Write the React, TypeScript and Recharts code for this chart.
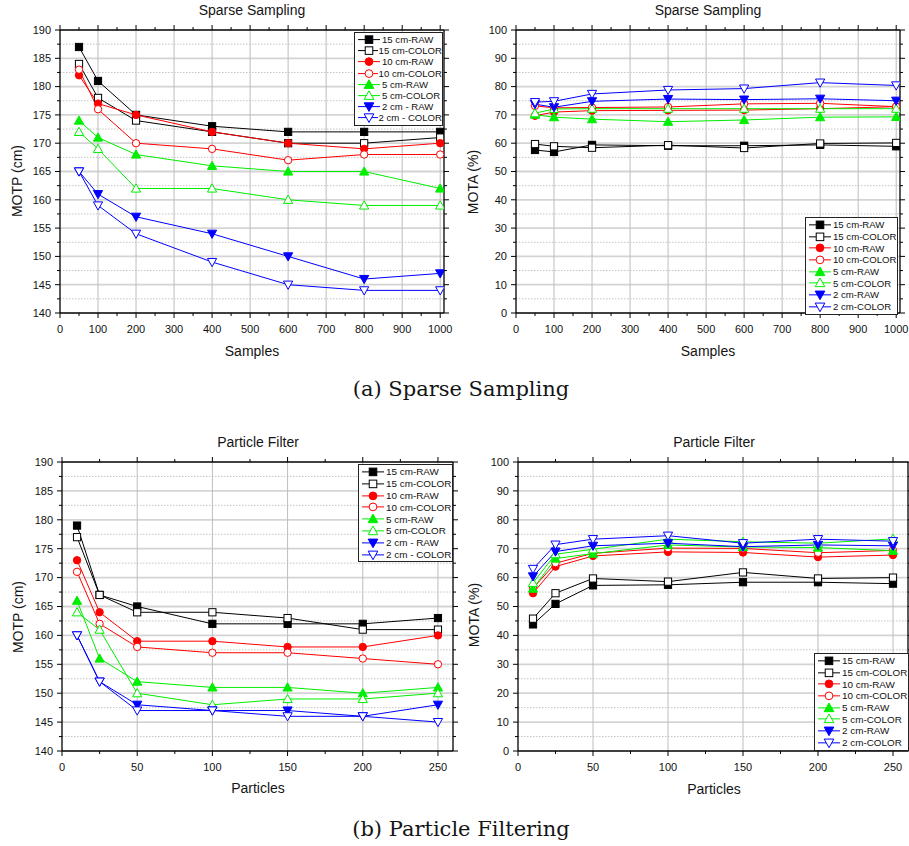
import React from 'react';
import { LineChart, Line, XAxis, YAxis, ReferenceLine, Legend } from 'recharts';

// ---------- categories / ticks ----------
const samples = [50, 100, 200, 400, 600, 800, 1000];
const particles = [10, 25, 50, 100, 150, 200, 250];

const sampleTicks = [0, 100, 200, 300, 400, 500, 600, 700, 800, 900, 1000];
const sampleMinorTicks = [50, 150, 250, 350, 450, 550, 650, 750, 850, 950];
const particleTicks = [0, 50, 100, 150, 200, 250];
const particleMinorTicks = [25, 75, 125, 175, 225];
const motpTicks = [140, 145, 150, 155, 160, 165, 170, 175, 180, 185, 190];
const motpMinorTicks = [142.5, 147.5, 152.5, 157.5, 162.5, 167.5, 172.5, 177.5, 182.5, 187.5];
const motaTicks = [0, 10, 20, 30, 40, 50, 60, 70, 80, 90, 100];
const motaMinorTicks = [5, 15, 25, 35, 45, 55, 65, 75, 85, 95];

// ---------- series values ----------
// Sparse Sampling - MOTP (cm)
const motpS15Raw = [187, 181, 175, 173, 172, 172, 172];
const motpS15Color = [184, 178, 174, 172, 170, 170, 171];
const motpS10Raw = [182, 177, 175, 172, 170, 169, 170];
const motpS10Color = [183, 176, 170, 169, 167, 168, 168];
const motpS5Raw = [174, 171, 168, 166, 165, 165, 162];
const motpS5Color = [172, 169, 162, 162, 160, 159, 159];
const motpS2Raw = [165, 161, 157, 154, 150, 146, 147];
const motpS2Color = [165, 159, 154, 149, 145, 144, 144];

// Sparse Sampling - MOTA (%)
const motaS15Raw = [57.6, 56.9, 59.4, 59.1, 59.1, 59.4, 58.9];
const motaS15Color = [59.7, 58.9, 58.4, 59.3, 58.3, 59.9, 60.1];
const motaS10Raw = [69.7, 71.0, 71.5, 71.6, 71.7, 72.2, 72.9];
const motaS10Color = [73.2, 72.5, 72.6, 72.8, 73.9, 74.1, 72.9];
const motaS5Raw = [70.1, 69.2, 68.5, 67.6, 68.2, 69.2, 69.3];
const motaS5Color = [70.6, 72.1, 72.2, 72.2, 72.2, 72.2, 72.2];
const motaS2Raw = [73.8, 72.7, 74.8, 75.6, 75.4, 75.7, 75.0];
const motaS2Color = [74.5, 74.8, 77.4, 78.8, 79.3, 81.4, 80.4];

// Particle Filter - MOTP (cm)
const motpP15Raw = [179, 167, 165, 162, 162, 162, 163];
const motpP15Color = [177, 167, 164, 164, 163, 161, 161];
const motpP10Raw = [173, 164, 159, 159, 158, 158, 160];
const motpP10Color = [171, 162, 158, 157, 157, 156, 155];
const motpP5Raw = [166, 156, 152, 151, 151, 150, 151];
const motpP5Color = [164, 161, 150, 148, 149, 149, 150];
const motpP2Raw = [160, 152, 148, 147, 147, 146, 148];
const motpP2Color = [160, 152, 147, 147, 146, 146, 145];

// Particle Filter - MOTA (%)
const motaP15Raw = [43.8, 50.9, 57.3, 57.5, 58.4, 58.4, 57.9];
const motaP15Color = [45.8, 54.6, 59.7, 58.6, 61.8, 59.7, 60.0];
const motaP10Raw = [54.6, 63.8, 67.5, 68.9, 68.7, 67.1, 67.8];
const motaP10Color = [56.3, 65.0, 68.4, 70.2, 70.1, 68.6, 69.4];
const motaP5Raw = [56.2, 66.6, 68.3, 71.3, 70.6, 70.4, 69.3];
const motaP5Color = [58.2, 68.1, 69.8, 73.3, 72.4, 71.9, 73.4];
const motaP2Raw = [60.4, 69.0, 71.0, 71.9, 70.7, 71.3, 71.0];
const motaP2Color = [63.0, 71.4, 73.3, 74.5, 71.9, 73.3, 72.6];

// ---------- text ----------
const legendNamesSpaced = ['15 cm-RAW', '15 cm-COLOR', '10 cm-RAW', '10 cm-COLOR', '5 cm-RAW', '5 cm-COLOR', '2 cm - RAW', '2 cm - COLOR'];
const legendNamesTight = ['15 cm-RAW', '15 cm-COLOR', '10 cm-RAW', '10 cm-COLOR', '5 cm-RAW', '5 cm-COLOR', '2 cm-RAW', '2 cm-COLOR'];
const captionA = '(a) Sparse Sampling';
const captionB = '(b) Particle Filtering';

// ---------- styles ----------
const SANS = '"Liberation Sans", Arial, sans-serif';
const SERIF = '"DejaVu Serif", serif';
const seriesKeys = ['r15', 'c15', 'r10', 'c10', 'r5', 'c5', 'r2', 'c2'];
const seriesColors = ['#000000', '#000000', '#ff0000', '#ff0000', '#00ee00', '#00ee00', '#0000ff', '#0000ff'];
const seriesShapes = ['square', 'square', 'circle', 'circle', 'up', 'up', 'down', 'down'];
const seriesFilled = [true, false, true, false, true, false, true, false];

function buildRows(xs: number[], cols: number[][]) {
  return xs.map((x, i) => {
    const row: any = { x };
    seriesKeys.forEach((k, j) => { row[k] = cols[j][i]; });
    return row;
  });
}

const dataSparseMotp = buildRows(samples, [motpS15Raw, motpS15Color, motpS10Raw, motpS10Color, motpS5Raw, motpS5Color, motpS2Raw, motpS2Color]);
const dataSparseMota = buildRows(samples, [motaS15Raw, motaS15Color, motaS10Raw, motaS10Color, motaS5Raw, motaS5Color, motaS2Raw, motaS2Color]);
const dataPartMotp = buildRows(particles, [motpP15Raw, motpP15Color, motpP10Raw, motpP10Color, motpP5Raw, motpP5Color, motpP2Raw, motpP2Color]);
const dataPartMota = buildRows(particles, [motaP15Raw, motaP15Color, motaP10Raw, motaP10Color, motaP5Raw, motaP5Color, motaP2Raw, motaP2Color]);

function Marker({ cx, cy, shape, color, filled, s = 1 }: any) {
  if (cx == null || cy == null || isNaN(cx) || isNaN(cy)) return null;
  const fill = filled ? color : '#ffffff';
  if (shape === 'square') {
    const h = 3.6 * s;
    return <rect x={cx - h} y={cy - h} width={2 * h} height={2 * h} fill={fill} stroke={color} strokeWidth={1} />;
  }
  if (shape === 'circle') {
    return <circle cx={cx} cy={cy} r={3.7 * s} fill={fill} stroke={color} strokeWidth={1} />;
  }
  if (shape === 'up') {
    const w = 4.6 * s;
    return <polygon points={`${cx},${cy - 4.6 * s} ${cx - w},${cy + 3.6 * s} ${cx + w},${cy + 3.6 * s}`} fill={fill} stroke={color} strokeWidth={1} />;
  }
  const w = 4.6 * s;
  return <polygon points={`${cx - w},${cy - 3.6 * s} ${cx + w},${cy - 3.6 * s} ${cx},${cy + 4.6 * s}`} fill={fill} stroke={color} strokeWidth={1} />;
}

const makeTick = (orient: string, majors: number[], showLabel: boolean) => (props: any) => {
  const { x, y, payload } = props;
  const v = payload.value;
  const major = majors.indexOf(v) >= 0;
  const len = major ? 5 : 3;
  if (orient === 'bottom') {
    return (
      <g>
        <line x1={x} x2={x} y1={y} y2={y + len} stroke="#000" strokeWidth={1} />
        {showLabel && major ? <text x={x} y={y + 16} dy="0.35em" textAnchor="middle" fontSize={11} fontFamily={SANS} fill="#111">{v}</text> : null}
      </g>
    );
  }
  if (orient === 'top') {
    return <line x1={x} x2={x} y1={y} y2={y - len} stroke="#000" strokeWidth={1} />;
  }
  if (orient === 'left') {
    return (
      <g>
        <line x1={x - len} x2={x} y1={y} y2={y} stroke="#000" strokeWidth={1} />
        {showLabel && major ? <text x={x - 9} y={y} dy="0.35em" textAnchor="end" fontSize={11} fontFamily={SANS} fill="#111">{v}</text> : null}
      </g>
    );
  }
  return <line x1={x} x2={x + len} y1={y} y2={y} stroke="#000" strokeWidth={1} />;
};

function Txt({ x, y, size, rotate, family, children }: any) {
  return (
    <div style={{ position: 'absolute', left: x, top: y, transform: `translate(-50%,-50%)${rotate ? ' rotate(-90deg)' : ''}`, fontSize: size, fontFamily: family || SANS, whiteSpace: 'nowrap', lineHeight: 1, color: '#151515' }}>
      {children}
    </div>
  );
}

function LegendBox({ names, fontSize, rowH }: any) {
  return (
    <div style={{ border: '1px solid #222', background: '#fff', padding: '1px 0 1px 3px', fontFamily: SANS, fontSize, color: '#111', boxSizing: 'border-box' }}>
      {names.map((n: string, i: number) => (
        <div key={i} style={{ display: 'flex', alignItems: 'center', height: rowH, whiteSpace: 'nowrap' }}>
          <svg width={23} height={rowH} style={{ display: 'block' }}>
            <line x1={0} x2={22} y1={rowH / 2} y2={rowH / 2} stroke={seriesColors[i]} strokeWidth={1} />
            <Marker cx={11} cy={rowH / 2} shape={seriesShapes[i]} color={seriesColors[i]} filled={seriesFilled[i]} s={1.05} />
          </svg>
          <span style={{ marginLeft: 1 }}>{n}</span>
        </div>
      ))}
    </div>
  );
}

function Panel(p: any) {
  const xAll = [...p.xMajor, ...p.xMinor].sort((a: number, b: number) => a - b);
  const yAll = [...p.yMajor, ...p.yMinor].sort((a: number, b: number) => a - b);
  const vGrid = p.xMajor.filter((v: number) => v > p.xDomain[0] && v < p.xDomain[1]);
  const hGrid = p.yMajor.filter((v: number) => v > p.yDomain[0] && v < p.yDomain[1]);
  return (
    <div style={{ position: 'absolute', left: p.left, top: p.top, width: p.width, height: p.height }}>
      <LineChart width={p.width} height={p.height} data={p.data} margin={{ top: 0, right: 0, bottom: 0, left: 0 }}>
        <XAxis xAxisId="b" dataKey="x" type="number" domain={p.xDomain} ticks={xAll} interval={0} orientation="bottom" height={p.xBH}
          tickSize={0} tickMargin={0} axisLine={{ stroke: '#000', strokeWidth: 1.3 }} tickLine={false} tick={makeTick('bottom', p.xMajor, true)} allowDataOverflow />
        <XAxis xAxisId="t" dataKey="x" type="number" domain={p.xDomain} ticks={xAll} interval={0} orientation="top" height={p.xTH}
          tickSize={0} tickMargin={0} axisLine={{ stroke: '#000', strokeWidth: 1.3 }} tickLine={false} tick={makeTick('top', p.xMajor, false)} allowDataOverflow />
        <YAxis yAxisId="l" type="number" domain={p.yDomain} ticks={yAll} interval={0} orientation="left" width={p.yLW}
          tickSize={0} tickMargin={0} axisLine={{ stroke: '#000', strokeWidth: 1.3 }} tickLine={false} tick={makeTick('left', p.yMajor, true)} allowDataOverflow />
        <YAxis yAxisId="r" type="number" domain={p.yDomain} ticks={yAll} interval={0} orientation="right" width={p.yRW}
          tickSize={0} tickMargin={0} axisLine={{ stroke: '#000', strokeWidth: 1.3 }} tickLine={false} tick={makeTick('right', p.yMajor, false)} allowDataOverflow />
        {p.yMinor.map((v: number) => (
          <ReferenceLine key={'hm' + v} xAxisId="b" yAxisId="l" y={v} stroke="#c4c4c4" strokeWidth={1} strokeDasharray="1.5 1.5" />
        ))}
        {hGrid.map((v: number) => (
          <ReferenceLine key={'h' + v} xAxisId="b" yAxisId="l" y={v} stroke="#d4d4d4" strokeWidth={1.8} />
        ))}
        {vGrid.map((v: number) => (
          <ReferenceLine key={'v' + v} xAxisId="b" yAxisId="l" x={v} stroke="#bdbdbd" strokeWidth={1} />
        ))}
        {seriesKeys.map((k, i) => (
          <Line key={k} xAxisId="b" yAxisId="l" type="linear" dataKey={k} name={p.names[i]} stroke={seriesColors[i]} strokeWidth={1}
            isAnimationActive={false} activeDot={false}
            dot={(d: any) => <Marker key={k + '-' + d.index} cx={d.cx} cy={d.cy} shape={seriesShapes[i]} color={seriesColors[i]} filled={seriesFilled[i]} />} />
        ))}
        <Legend layout="vertical" align="center" verticalAlign="middle"
          wrapperStyle={{ left: p.legend.x, top: p.legend.y, width: p.legend.w, height: 'auto' }}
          content={() => <LegendBox names={p.names} fontSize={p.legend.fs} rowH={p.legend.rh} />} />
      </LineChart>
    </div>
  );
}

export default function App() {
  return (
    <div style={{ position: 'absolute', left: 0, top: 0, width: 909, height: 846, background: '#fff', overflow: 'hidden' }}>
      <Panel left={0} top={0} width={455} height={370} data={dataSparseMotp} names={legendNamesSpaced}
        xDomain={[0, 1010]} yDomain={[140, 190]} xMajor={sampleTicks} xMinor={sampleMinorTicks} yMajor={motpTicks} yMinor={motpMinorTicks}
        yLW={60} yRW={11} xTH={30} xBH={57} legend={{ x: 354, y: 32, w: 89, fs: 9.6, rh: 11.2 }} />
      <Panel left={455} top={0} width={454} height={370} data={dataSparseMota} names={legendNamesTight}
        xDomain={[0, 1010]} yDomain={[0, 100]} xMajor={sampleTicks} xMinor={sampleMinorTicks} yMajor={motaTicks} yMinor={motaMinorTicks}
        yLW={61} yRW={9} xTH={30} xBH={57} legend={{ x: 350, y: 217, w: 93, fs: 9.6, rh: 11.7 }} />
      <Panel left={0} top={425} width={460} height={380} data={dataPartMotp} names={legendNamesSpaced}
        xDomain={[0, 260]} yDomain={[140, 190]} xMajor={particleTicks} xMinor={particleMinorTicks} yMajor={motpTicks} yMinor={motpMinorTicks}
        yLW={62} yRW={7} xTH={37} xBH={54} legend={{ x: 358, y: 39, w: 95, fs: 9.9, rh: 11.8 }} />
      <Panel left={455} top={425} width={455} height={380} data={dataPartMota} names={legendNamesTight}
        xDomain={[0, 260]} yDomain={[0, 100]} xMajor={particleTicks} xMinor={particleMinorTicks} yMajor={motaTicks} yMinor={motaMinorTicks}
        yLW={63} yRW={2} xTH={37} xBH={54} legend={{ x: 359, y: 228, w: 95, fs: 9.9, rh: 11.7 }} />

      <Txt x={252} y={10} size={14}>Sparse Sampling</Txt>
      <Txt x={252} y={351} size={14}>Samples</Txt>
      <Txt x={17} y={181} size={14} rotate>MOTP (cm)</Txt>

      <Txt x={708} y={10} size={14}>Sparse Sampling</Txt>
      <Txt x={708} y={351} size={14}>Samples</Txt>
      <Txt x={473} y={182} size={14} rotate>MOTA (%)</Txt>

      <Txt x={258} y={442} size={14}>Particle Filter</Txt>
      <Txt x={258} y={788} size={14}>Particles</Txt>
      <Txt x={18} y={617} size={14} rotate>MOTP (cm)</Txt>

      <Txt x={714} y={442} size={14}>Particle Filter</Txt>
      <Txt x={714} y={789} size={14}>Particles</Txt>
      <Txt x={474} y={615} size={14} rotate>MOTA (%)</Txt>

      <Txt x={461} y={389} size={21} family={SERIF}>{captionA}</Txt>
      <Txt x={461} y={829} size={21} family={SERIF}>{captionB}</Txt>
    </div>
  );
}
